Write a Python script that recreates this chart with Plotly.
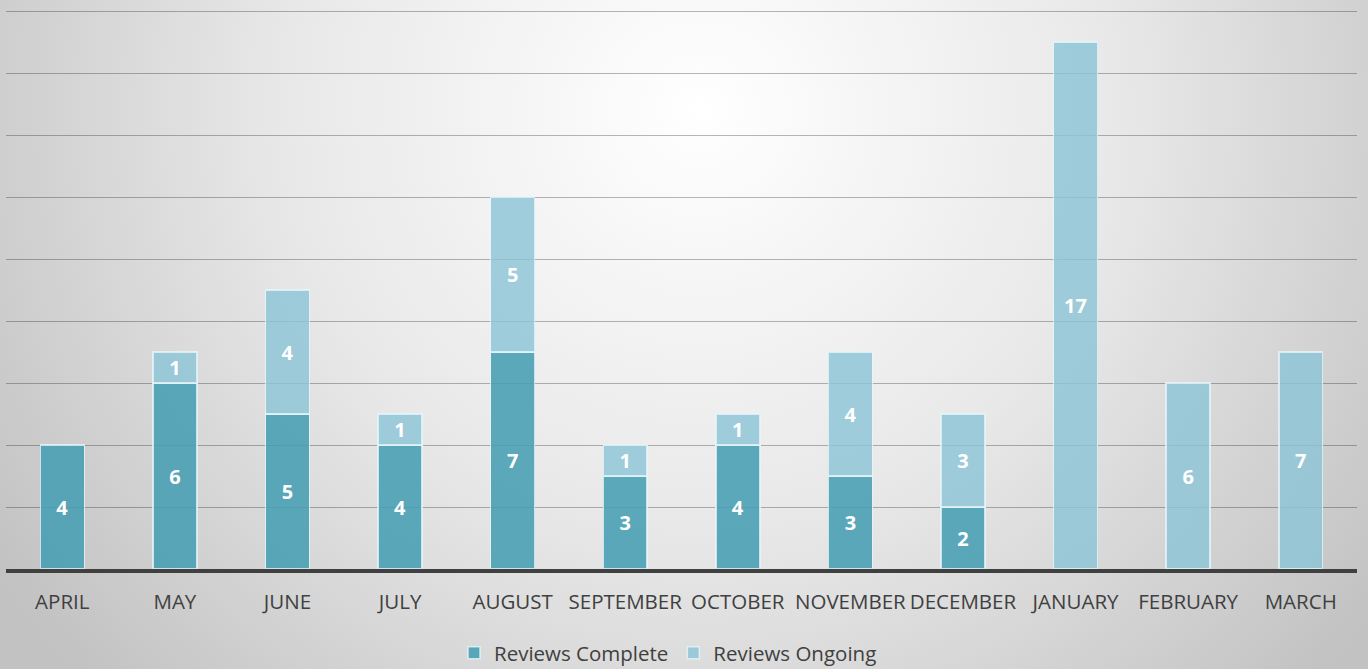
import base64
import plotly.graph_objects as go

months = ["APRIL", "MAY", "JUNE", "JULY", "AUGUST", "SEPTEMBER", "OCTOBER",
          "NOVEMBER", "DECEMBER", "JANUARY", "FEBRUARY", "MARCH"]
complete = [4, 6, 5, 4, 7, 3, 4, 3, 2, 0, 0, 0]
ongoing = [0, 1, 4, 1, 5, 1, 1, 4, 3, 17, 6, 7]

W, H = 1368, 669
ML, MR, MT, MB = 6, 11, 10, 100
PW, PH = W - ML - MR, H - MT - MB

svg = f'''<svg xmlns="http://www.w3.org/2000/svg" width="{W}" height="{H}" viewBox="0 0 {W} {H}" preserveAspectRatio="none">
<defs><radialGradient id="g" gradientUnits="userSpaceOnUse" cx="700" cy="110" r="840">
<stop offset="0" stop-color="#ffffff"/><stop offset="0.5" stop-color="#e8e8e8"/><stop offset="1" stop-color="#c2c2c2"/>
</radialGradient></defs><rect width="{W}" height="{H}" fill="url(#g)"/></svg>'''
src = "data:image/svg+xml;base64," + base64.b64encode(svg.encode()).decode()


def nz(v):
    return [x if x else None for x in v]


def lbl(v):
    return [str(x) if x else "" for x in v]


label_font = dict(family="Open Sans", size=20, color="white", weight="bold")
edge = dict(color="rgba(230,245,250,0.8)", width=1.5)

fig = go.Figure()
fig.add_trace(go.Bar(
    name="Reviews Complete", x=months, y=nz(complete), text=lbl(complete),
    marker=dict(color="rgba(72,158,180,0.88)", line=edge),
    textposition="inside", insidetextanchor="middle", textfont=label_font,
    textangle=0, constraintext="none",
))
fig.add_trace(go.Bar(
    name="Reviews Ongoing", x=months, y=nz(ongoing), text=lbl(ongoing),
    marker=dict(color="rgba(140,196,214,0.82)", line=edge),
    textposition="inside", insidetextanchor="middle", textfont=label_font,
    textangle=0, constraintext="none",
))

fig.update_layout(
    width=W, height=H,
    margin=dict(l=ML, r=MR, t=MT, b=MB, autoexpand=False),
    barmode="stack", bargap=0.61,
    paper_bgcolor="#e0e0e0", plot_bgcolor="rgba(0,0,0,0)",
    font=dict(family="Open Sans", color="#404040"),
    images=[dict(source=src, xref="paper", yref="paper",
                 x=-ML / PW, y=1 + MT / PH, sizex=W / PW, sizey=H / PH,
                 xanchor="left", yanchor="top", sizing="stretch", layer="below")],
    showlegend=True,
    legend=dict(orientation="h", x=(668 - ML) / PW, xanchor="center", y=-84 / PH, yanchor="middle",
                font=dict(size=20.5, color="#404040"), bgcolor="rgba(0,0,0,0)",
                traceorder="normal", itemwidth=30),
    uniformtext=dict(mode=False),
)
fig.update_xaxes(showline=True, linecolor="#404040", linewidth=3.5,
                 tickfont=dict(size=20.5, color="#404040"),
                 ticks="", ticklabelstandoff=12, showgrid=False)
fig.update_yaxes(range=[0, 18.04], tick0=0, dtick=2, showticklabels=False, showgrid=True,
                 gridcolor="rgba(0,0,0,0.28)", gridwidth=1.2, zeroline=False)

fig.write_html("out.html", config={"displayModeBar": False},
               post_script="document.body.style.margin='0';document.body.style.overflow='hidden';")
